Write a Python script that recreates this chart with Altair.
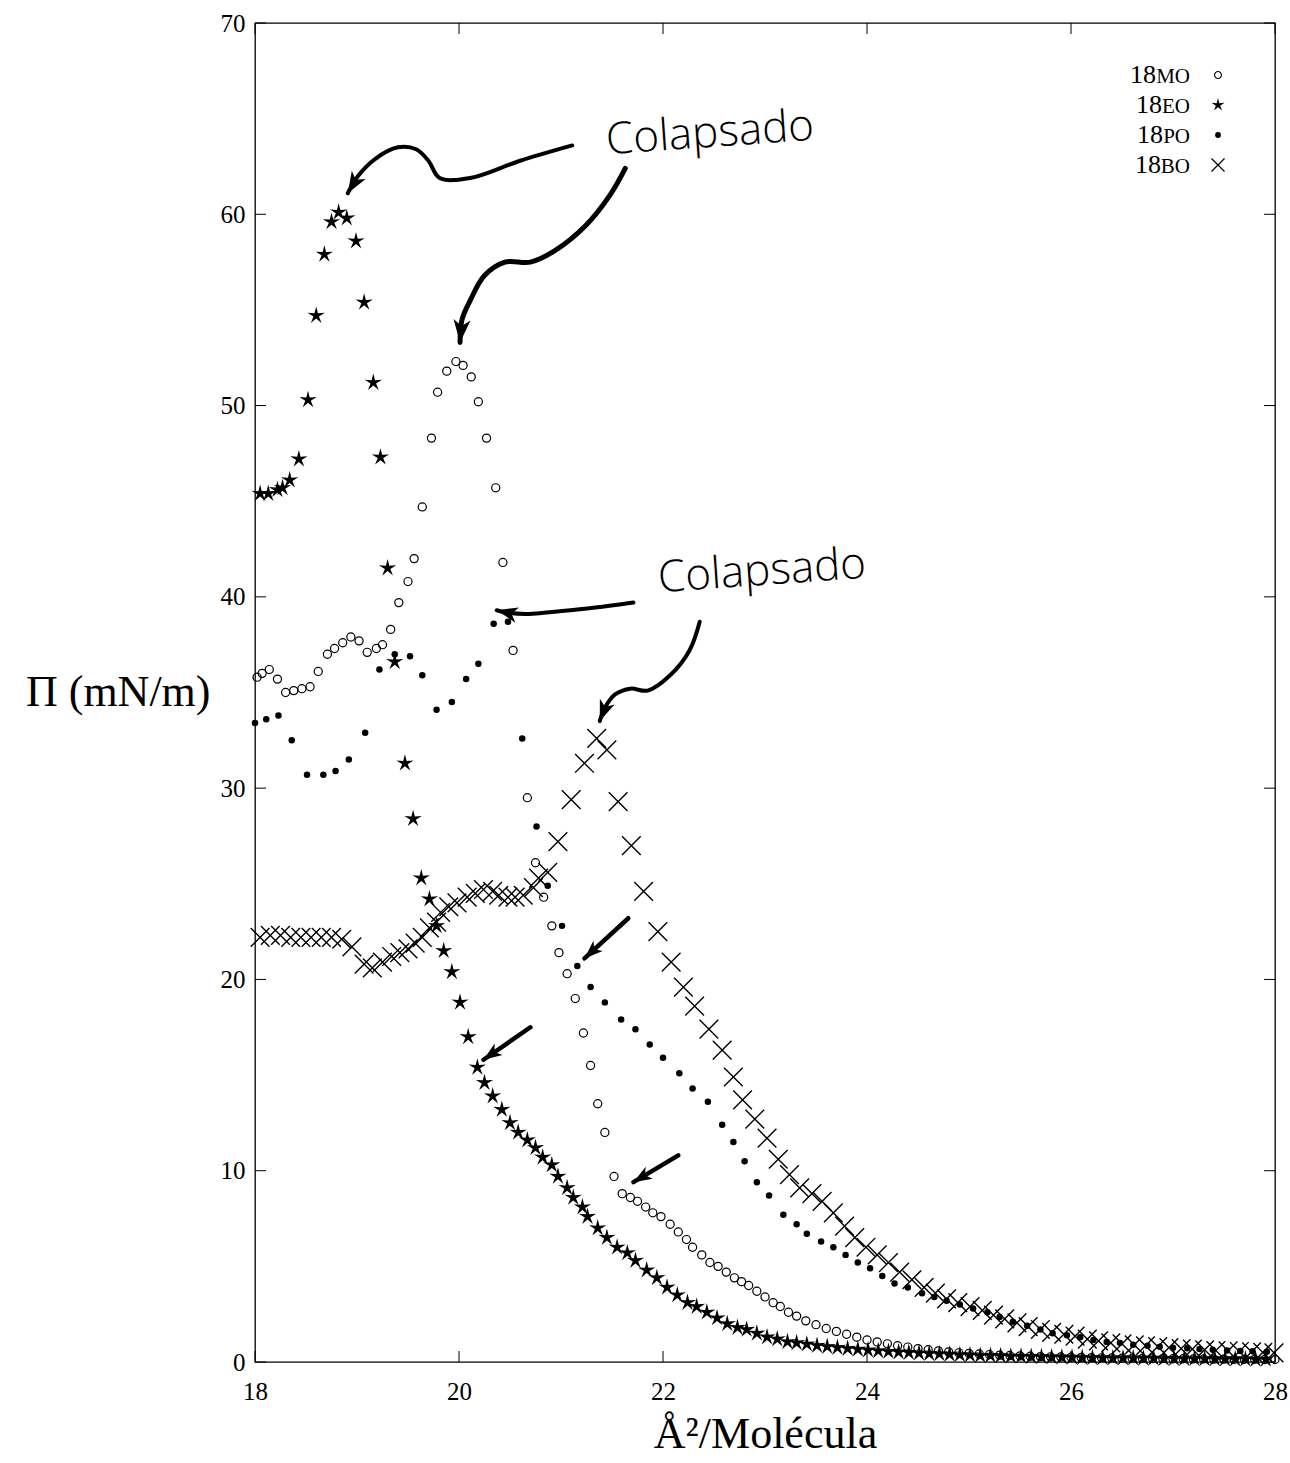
import math
import altair as alt
import pandas as pd

# Surface pressure - area isotherms: Π (mN/m) against area per molecule (Å²)

mo_area = [18.02, 18.07, 18.14, 18.22, 18.30, 18.38, 18.46, 18.54, 18.62, 18.71,
           18.78, 18.86, 18.94, 19.02, 19.10, 19.19, 19.25, 19.33, 19.41, 19.50,
           19.56, 19.64, 19.73, 19.79, 19.88, 19.97, 20.04, 20.12, 20.19, 20.27,
           20.36, 20.43, 20.53, 20.67, 20.75, 20.83, 20.91, 20.98, 21.06, 21.14,
           21.22, 21.29, 21.36, 21.43, 21.52, 21.60, 21.68, 21.75, 21.83, 21.90,
           21.98, 22.07, 22.15, 22.23, 22.29, 22.38, 22.46, 22.54, 22.62, 22.70,
           22.77, 22.84, 22.92, 23.00, 23.08, 23.15, 23.23, 23.31,
           23.40, 23.50, 23.60, 23.70, 23.80, 23.90, 24.00, 24.10, 24.20, 24.30,
           24.40, 24.50, 24.60, 24.70, 24.80, 24.90, 25.00, 25.10, 25.20, 25.30,
           25.40, 25.50, 25.60, 25.70, 25.80, 25.90, 26.00, 26.10, 26.20, 26.30,
           26.40, 26.50, 26.60, 26.70, 26.80, 26.90, 27.00, 27.10, 27.20, 27.30,
           27.40, 27.50, 27.60, 27.70, 27.80, 27.90, 28.00]
mo_pi = [35.8, 36.0, 36.2, 35.7, 35.0, 35.1, 35.2, 35.3, 36.1, 37.0,
         37.3, 37.6, 37.9, 37.7, 37.1, 37.3, 37.5, 38.3, 39.7, 40.8,
         42.0, 44.7, 48.3, 50.7, 51.8, 52.3, 52.1, 51.5, 50.2, 48.3,
         45.7, 41.8, 37.2, 29.5, 26.1, 24.3, 22.8, 21.4, 20.3, 19.0,
         17.2, 15.5, 13.5, 12.0, 9.7, 8.8, 8.6, 8.4, 8.1, 7.8,
         7.6, 7.2, 6.8, 6.4, 6.0, 5.6, 5.2, 5.0, 4.7, 4.4,
         4.2, 4.0, 3.7, 3.4, 3.1, 2.9, 2.6, 2.4,
         2.15, 1.95, 1.75, 1.60, 1.45, 1.30, 1.15, 1.05, 0.95, 0.85,
         0.78, 0.70, 0.64, 0.58, 0.53, 0.48, 0.45, 0.42, 0.39, 0.36,
         0.34, 0.32, 0.30, 0.28, 0.27, 0.26, 0.25, 0.24, 0.23, 0.22,
         0.21, 0.20, 0.20, 0.19, 0.18, 0.18, 0.17, 0.17, 0.16, 0.16,
         0.15, 0.15, 0.14, 0.14, 0.14, 0.13, 0.13]

eo_area = [18.05, 18.13, 18.22, 18.27, 18.34, 18.43, 18.52, 18.60, 18.68, 18.75,
           18.82, 18.90, 18.99, 19.07, 19.16, 19.23, 19.30, 19.37, 19.47, 19.55,
           19.63, 19.71, 19.78, 19.85, 19.93, 20.01, 20.09, 20.18, 20.25, 20.33,
           20.42, 20.50, 20.58, 20.67, 20.75, 20.82, 20.91, 20.97, 21.06, 21.12,
           21.21, 21.26, 21.36, 21.45, 21.55, 21.65, 21.73, 21.84, 21.94, 22.04,
           22.14, 22.24, 22.33, 22.43, 22.53, 22.63, 22.73, 22.82, 22.92, 23.02,
           23.12, 23.22, 23.31,
           23.41, 23.51, 23.61, 23.71, 23.81, 23.91, 24.01, 24.11, 24.21, 24.31,
           24.41, 24.51, 24.61, 24.71, 24.81, 24.91, 25.01, 25.11, 25.21, 25.31,
           25.41, 25.51, 25.61, 25.71, 25.81, 25.91, 26.01, 26.11, 26.21, 26.31,
           26.41, 26.51, 26.61, 26.71, 26.81, 26.91, 27.01, 27.11, 27.21, 27.31,
           27.41, 27.51, 27.61, 27.71, 27.81, 27.91]
eo_pi = [45.4, 45.4, 45.6, 45.7, 46.1, 47.2, 50.3, 54.7, 57.9, 59.6,
         60.1, 59.8, 58.6, 55.4, 51.2, 47.3, 41.5, 36.6, 31.3, 28.4,
         25.3, 24.2, 22.8, 21.5, 20.4, 18.8, 17.0, 15.4, 14.6, 13.9,
         13.2, 12.5, 12.0, 11.6, 11.2, 10.7, 10.3, 9.7, 9.1, 8.6,
         8.1, 7.6, 7.0, 6.5, 6.0, 5.7, 5.3, 4.8, 4.4, 3.9,
         3.5, 3.1, 2.9, 2.6, 2.3, 2.0, 1.8, 1.7, 1.5, 1.3,
         1.2, 1.05, 1.0,
         0.93, 0.86, 0.80, 0.75, 0.70, 0.66, 0.62, 0.58, 0.55, 0.52,
         0.49, 0.46, 0.44, 0.42, 0.40, 0.38, 0.36, 0.34, 0.33, 0.32,
         0.30, 0.29, 0.28, 0.27, 0.26, 0.25, 0.24, 0.23, 0.22, 0.22,
         0.21, 0.20, 0.20, 0.19, 0.19, 0.18, 0.18, 0.17, 0.17, 0.16,
         0.16, 0.15, 0.15, 0.15, 0.14, 0.14]

po_area = [18.00, 18.11, 18.23, 18.36, 18.51, 18.67, 18.79, 18.92, 19.08, 19.22,
           19.37, 19.52, 19.64, 19.78, 19.93, 20.07, 20.19, 20.34, 20.48, 20.62,
           20.76, 20.87, 21.01, 21.16, 21.29, 21.43, 21.59, 21.73, 21.87, 22.00,
           22.16, 22.29, 22.44, 22.58, 22.69, 22.80, 22.92, 23.04, 23.18, 23.31,
           23.41, 23.55, 23.67, 23.79, 23.91, 24.03, 24.15, 24.27, 24.40, 24.54,
           24.66, 24.78, 24.91, 25.04, 25.18, 25.30, 25.43, 25.57, 25.70, 25.82,
           25.96, 26.09, 26.22, 26.35, 26.48, 26.61, 26.75, 26.87, 27.00, 27.14,
           27.26, 27.39, 27.53, 27.66, 27.78, 27.92]
po_pi = [33.4, 33.6, 33.8, 32.5, 30.7, 30.7, 30.9, 31.5, 32.9, 36.2,
         37.0, 36.9, 35.9, 34.1, 34.5, 35.7, 36.5, 38.6, 38.7, 32.6,
         28.0, 24.9, 22.8, 20.7, 19.6, 18.8, 17.9, 17.4, 16.6, 15.9,
         15.1, 14.3, 13.6, 12.4, 11.5, 10.5, 9.4, 8.7, 7.7, 7.2,
         6.7, 6.3, 6.0, 5.6, 5.2, 4.9, 4.5, 4.1, 3.9, 3.6,
         3.4, 3.2, 3.0, 2.8, 2.6, 2.35, 2.1, 1.9, 1.7, 1.5,
         1.4, 1.3, 1.15, 1.05, 1.0, 0.9, 0.85, 0.8, 0.75, 0.72,
         0.68, 0.64, 0.6, 0.58, 0.56, 0.53]

bo_area = [18.05, 18.15, 18.25, 18.35, 18.45, 18.55, 18.65, 18.75, 18.85, 18.95,
           19.07, 19.15, 19.25, 19.34, 19.42, 19.50, 19.57, 19.64, 19.71, 19.78,
           19.82, 19.90, 19.98, 20.08, 20.16, 20.24, 20.33, 20.39, 20.48, 20.55,
           20.63, 20.73, 20.78, 20.87, 20.97, 21.10, 21.23, 21.35, 21.45, 21.56,
           21.69, 21.81, 21.95, 22.08, 22.20, 22.31, 22.45, 22.58, 22.69, 22.78,
           22.90, 23.02, 23.13, 23.24, 23.34, 23.46, 23.56, 23.67, 23.78, 23.88,
           23.99, 24.10, 24.21, 24.32, 24.44, 24.56, 24.67, 24.78, 24.89, 25.01,
           25.13, 25.24, 25.35, 25.47, 25.58, 25.70, 25.81, 25.93, 26.04, 26.16,
           26.27, 26.39, 26.50, 26.62, 26.73, 26.85, 26.96, 27.08, 27.19, 27.31,
           27.42, 27.54, 27.65, 27.77, 27.88, 27.99]
bo_pi = [22.2, 22.3, 22.3, 22.2, 22.2, 22.2, 22.2, 22.2, 22.1, 21.7,
         20.8, 20.6, 20.9, 21.2, 21.4, 21.6, 21.9, 22.2, 22.7, 23.0,
         23.5, 23.8, 24.0, 24.3, 24.5, 24.7, 24.6, 24.4, 24.3, 24.3,
         24.4, 24.8, 25.3, 25.6, 27.2, 29.4, 31.3, 32.6, 32.0, 29.3,
         27.0, 24.6, 22.5, 20.9, 19.6, 18.6, 17.4, 16.3, 14.9, 13.7,
         12.7, 11.7, 10.6, 9.8, 9.1, 8.8, 8.4, 7.8, 7.1, 6.5,
         6.0, 5.6, 5.2, 4.7, 4.3, 3.9, 3.6, 3.3, 3.1, 2.9,
         2.7, 2.45, 2.25, 2.05, 1.85, 1.7, 1.55, 1.45, 1.35, 1.2,
         1.1, 1.0, 0.95, 0.9, 0.85, 0.8, 0.75, 0.7, 0.67, 0.64,
         0.6, 0.58, 0.55, 0.53, 0.5, 0.48]

x_ticks = [18, 20, 22, 24, 26, 28]
y_ticks = [0, 10, 20, 30, 40, 50, 60, 70]

# hand-drawn "collapse" annotations (area, Π)
note_area = [22.46, 22.97]
note_pi = [64.2, 41.3]
note_text = ["Colapsado", "Colapsado"]

arrow_paths = [
    [(21.11, 63.6), (20.60, 62.8), (20.11, 61.9), (19.81, 61.9), (19.70, 62.8),
     (19.58, 63.4), (19.40, 63.5), (19.18, 62.9), (19.01, 62.0), (18.91, 61.1)],
    [(21.63, 62.4), (21.48, 61.0), (21.24, 59.4), (20.94, 58.1), (20.70, 57.5),
     (20.45, 57.5), (20.25, 56.8), (20.11, 55.5), (20.03, 54.5), (20.01, 53.3)],
    [(21.71, 39.7), (21.28, 39.4), (20.89, 39.2), (20.65, 39.1), (20.45, 39.2),
     (20.37, 39.3)],
    [(22.36, 38.7), (22.26, 37.2), (22.07, 35.9), (21.85, 35.1), (21.68, 35.2),
     (21.53, 34.9), (21.43, 34.2), (21.38, 33.5)],
    [(21.66, 23.2), (21.23, 21.1)],
    [(20.70, 17.5), (20.24, 15.8)],
    [(22.15, 10.8), (21.71, 9.4)],
]
arrow_width = [4, 5, 4, 4, 4.5, 4.5, 4.5]
arrow_head = [460, 520, 440, 440, 340, 340, 340]

W, H = 1020, 1339
SERIF = "Liberation Serif"
HAND = "Open Sans"

STAR = ("M0,-1L0.188,-0.259L0.951,-0.309L0.304,0.099L0.588,0.809L0,0.32"
        "L-0.588,0.809L-0.304,0.099L-0.951,-0.309L-0.188,-0.259Z")
XMARK = "M-1,-1L1,1M-1,1L1,-1"
HEAD = "M0,0L0.75,2L0,1.45L-0.75,2Z"

x_scale = alt.Scale(domain=[18, 28], nice=False, zero=False)
y_scale = alt.Scale(domain=[0, 70], nice=False)

x_axis = alt.Axis(values=x_ticks, format="d", ticks=False, tickSize=0, domain=False,
                  grid=False, labelFont=SERIF, labelFontSize=25, labelColor="black",
                  labelPadding=17, labelFlush=False, labelOverlap=False,
                  title="Å²/Molécula", titleFont=SERIF, titleFontSize=44,
                  titleFontWeight="normal", titleColor="black", titlePadding=8)
y_axis = alt.Axis(values=y_ticks, format="d", ticks=False, tickSize=0, domain=False,
                  grid=False, labelFont=SERIF, labelFontSize=25, labelColor="black",
                  labelPadding=10, labelFlush=False, labelOverlap=False,
                  title="Π (mN/m)", titleFont=SERIF, titleFontSize=44,
                  titleFontWeight="normal", titleColor="black", titleAngle=0,
                  titleAlign="right", titleBaseline="middle", titleX=-45,
                  titleY=H / 2)


def X(field):
    return alt.X(field, type="quantitative", scale=x_scale, axis=x_axis)


def Y(field):
    return alt.Y(field, type="quantitative", scale=y_scale, axis=y_axis)


def points(area, pi):
    return pd.DataFrame({"area": area, "pi": pi})


mo_layer = alt.Chart(points(mo_area, mo_pi)).mark_point(
    shape="circle", filled=False, color="black", strokeWidth=1.2, size=66, opacity=1
).encode(x=X("area"), y=Y("pi"))

eo_layer = alt.Chart(points(eo_area, eo_pi)).mark_point(
    shape=STAR, filled=True, color="black", size=330, opacity=1
).encode(x=X("area"), y=Y("pi"))

po_layer = alt.Chart(points(po_area, po_pi)).mark_point(
    shape="circle", filled=True, color="black", size=42, opacity=1
).encode(x=X("area"), y=Y("pi"))

bo_layer = alt.Chart(points(bo_area, bo_pi)).mark_point(
    shape=XMARK, filled=False, color="black", strokeWidth=1.4, size=350, opacity=1
).encode(x=X("area"), y=Y("pi"))

# inward ticks on all four sides of the frame
xt = pd.DataFrame({"t": x_ticks})
yt = pd.DataFrame({"t": y_ticks})
tick_len = 11
ticks = [
    alt.Chart(xt).mark_rule(color="black", strokeWidth=1).encode(
        x=X("t"), y=alt.value(H), y2=alt.value(H - tick_len)),
    alt.Chart(xt).mark_rule(color="black", strokeWidth=1).encode(
        x=X("t"), y=alt.value(0), y2=alt.value(tick_len)),
    alt.Chart(yt).mark_rule(color="black", strokeWidth=1).encode(
        y=Y("t"), x=alt.value(0), x2=alt.value(tick_len)),
    alt.Chart(yt).mark_rule(color="black", strokeWidth=1).encode(
        y=Y("t"), x=alt.value(W - tick_len), x2=alt.value(W)),
]

# arrows: shaft as a smooth line, head as a rotated custom symbol
sx, sy = W / 10.0, H / 70.0
arrow_layers = []
for i, path in enumerate(arrow_paths):
    shaft = pd.DataFrame({"area": [p[0] for p in path],
                          "pi": [p[1] for p in path],
                          "k": list(range(len(path)))})
    arrow_layers.append(
        alt.Chart(shaft).mark_line(color="black", strokeWidth=arrow_width[i],
                                   interpolate="catmull-rom", strokeCap="round")
        .encode(x=X("area"), y=Y("pi"), order=alt.Order("k:Q")))
    (x0, y0), (x1, y1) = path[-2], path[-1]
    ang = math.degrees(math.atan2((x1 - x0) * sx, (y1 - y0) * sy)) % 360
    head = pd.DataFrame({"area": [x1], "pi": [y1], "ang": [ang]})
    arrow_layers.append(
        alt.Chart(head).mark_point(shape=HEAD, filled=True, color="black",
                                   size=arrow_head[i], opacity=1)
        .encode(x=X("area"), y=Y("pi"), angle=alt.Angle("ang:Q", scale=None)))

notes = alt.Chart(pd.DataFrame({"area": note_area, "pi": note_pi, "label": note_text})).mark_text(
    font=HAND, fontSize=44, fontWeight=300, angle=356, color="black"
).encode(x=X("area"), y=Y("pi"), text="label:N")

# key in the top-right corner: "18" + small-caps suffix, symbol on the right
legend_suffix = ["MO", "EO", "PO", "BO"]
legend_suffix_w = [34, 28, 27, 29]
legend_baseline = [60, 90, 120, 150]
legend_symbol_y = [52, 82, 112, 142]
legend_marks = [
    dict(shape="circle", filled=False, strokeWidth=1.1, size=48),
    dict(shape=STAR, filled=True, size=190),
    dict(shape="circle", filled=True, size=34),
    dict(shape=XMARK, filled=False, strokeWidth=1.2, size=170),
]
text_right = 935
symbol_x = 963
legend_layers = []
for suf, sw, yb, ys, mk in zip(legend_suffix, legend_suffix_w, legend_baseline,
                               legend_symbol_y, legend_marks):
    row = pd.DataFrame({"num": ["18"], "suf": [suf]})
    legend_layers.append(
        alt.Chart(row).mark_text(font=SERIF, fontSize=26, align="right",
                                 baseline="alphabetic", color="black")
        .encode(x=alt.value(text_right - sw), y=alt.value(yb), text="num:N"))
    legend_layers.append(
        alt.Chart(row).mark_text(font=SERIF, fontSize=21, align="right",
                                 baseline="alphabetic", color="black")
        .encode(x=alt.value(text_right), y=alt.value(yb), text="suf:N"))
    legend_layers.append(
        alt.Chart(row).mark_point(color="black", opacity=1, **mk)
        .encode(x=alt.value(symbol_x), y=alt.value(ys)))

chart = alt.layer(
    *ticks, mo_layer, po_layer, bo_layer, eo_layer, *arrow_layers, notes, *legend_layers
).properties(
    width=W, height=H,
    autosize=alt.AutoSizeParams(type="none"),
    padding={"left": 255, "top": 23, "right": 15, "bottom": 101},
    background="white",
).configure_view(stroke="black", strokeWidth=1.3)

chart.save("out.html", embed_options={"renderer": "svg", "actions": False})
